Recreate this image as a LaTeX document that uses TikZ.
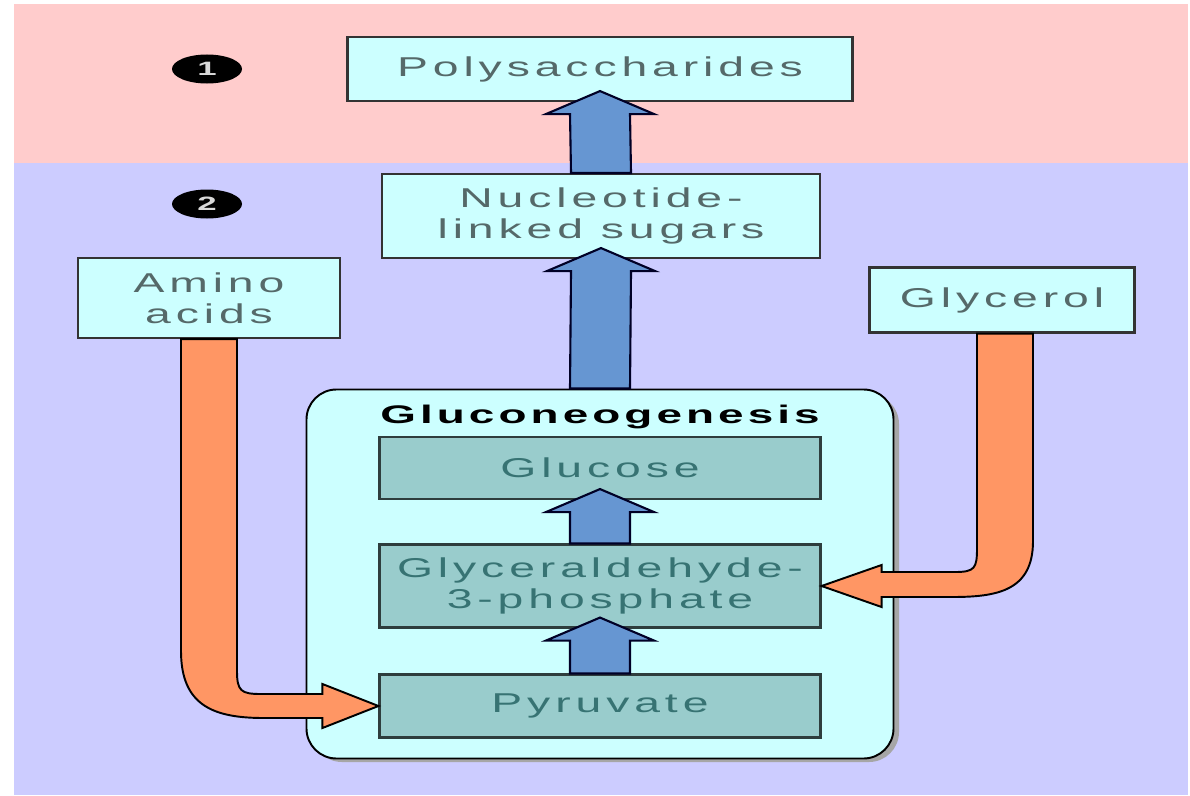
\documentclass[tikz,border=0pt]{standalone}
\usepackage{fontspec}
\usetikzlibrary{calc,shapes.geometric}

\newfontfamily\boxfont[FakeStretch=1.7,LetterSpace=18]{Liberation Sans}
\newfontfamily\headfont[FakeStretch=1.8,LetterSpace=16]{Liberation Sans}

\definecolor{pinkband}{RGB}{255,204,204}
\definecolor{lilacband}{RGB}{204,204,255}
\definecolor{paleCyan}{RGB}{204,255,255}
\definecolor{tealbox}{RGB}{153,204,204}
\definecolor{greytext}{RGB}{85,105,105}
\definecolor{tealtext}{RGB}{55,115,115}
\definecolor{arrowblue}{RGB}{102,150,210}
\definecolor{arroworange}{RGB}{255,150,100}

\tikzset{
  compound/.style={draw=black!80, line width=1.2pt, fill=paleCyan, align=center,
    text=greytext, font=\boxfont\fontsize{15.5}{17.5}\selectfont, inner sep=0pt},
  step box/.style={draw=black!70!tealbox, line width=1.2pt, fill=tealbox, align=center,
    text=tealtext, font=\boxfont\fontsize{15.5}{17.5}\selectfont, inner sep=0pt,
    minimum width=88.2mm},
  badge/.style={ellipse, fill=black, text=black!15, minimum width=14mm, minimum height=5.8mm,
    inner sep=0pt, font=\headfont\bfseries\fontsize{11}{11}\selectfont},
  blue arrow/.style={fill=arrowblue, draw=black!85!blue, line width=1.2pt, line join=miter},
  orange arrow/.style={fill=arroworange, draw=black, line width=1.1pt, line join=miter}
}

% fat upward arrow from the top of #1 into the bottom of #2
\newcommand{\blockarrow}[2]{%
  \filldraw[blue arrow] ($(#1.north)+(-30,0)$) -- ($(#2.south)+(-30,12)$)
    -- ($(#2.south)+(-54,12)$) -- ($(#2.south)+(0,-11)$) -- ($(#2.south)+(54,12)$)
    -- ($(#2.south)+(30,12)$) -- ($(#1.north)+(30,0)$) -- cycle;}

\begin{document}
\begin{tikzpicture}[x=0.2mm, y=-0.2mm]
  \useasboundingbox (0,0) rectangle (1190,795);

  % Bands
  \fill[pinkband] (14,4) rectangle (1188,163);
  \fill[lilacband] (14,163) rectangle (1188,795);

  \node[badge] (one) at (207,69) {1};
  \node[badge] (two) at (207,204) {2};

  % Boxes
  \node[compound, minimum width=101mm, minimum height=12.8mm] (poly) at (600,69) {Polysaccharides};
  \node[compound, minimum width=87.6mm, minimum height=16.8mm] (nucl) at (601,216) {Nucleotide-\\linked sugars};
  \node[compound, minimum width=52.4mm, minimum height=16mm] (amino) at (209,298) {Amino\\acids};
  \node[compound, minimum width=53mm, minimum height=13mm] (glyc) at (1002,300) {Glycerol};

  % Gluconeogenesis block, with a soft shadow on its right side
  \fill[black!35, rounded corners=6mm] (312,394) rectangle (899,762);
  \node[draw=black, line width=1.1pt, fill=paleCyan, rounded corners=6mm,
    minimum width=117.4mm, minimum height=73.8mm] (gng) at (600,574) {};
  \node[font=\headfont\bfseries\fontsize{14.5}{16}\selectfont] (gngtitle) at (600,417) {Gluconeogenesis};
  \node[step box, minimum height=12.4mm] (glucose) at (600,468) {Glucose};
  \node[step box, minimum height=16.6mm] (gap) at (600,586) {Glyceraldehyde-\\3-phosphate};
  \node[step box, minimum height=12.6mm] (pyr) at (600,706) {Pyruvate};

  % Upward flow
  \blockarrow{nucl}{poly}
  \blockarrow{gng}{nucl}
  \blockarrow{gap}{glucose}
  \blockarrow{pyr}{gap}

  % Amino acids feed pyruvate
  \filldraw[orange arrow]
    ($(amino.south)+(-28,0)$) -- ($(amino.south |- pyr.west)+(-28,-55)$)
    .. controls +(0,55) and +(-50,0) .. ($(amino.south |- pyr.west)+(55,12)$)
    -- ($(pyr.west)+(-56,12)$) -- ($(pyr.west)+(-56,22)$) -- (pyr.west)
    -- ($(pyr.west)+(-56,-22)$) -- ($(pyr.west)+(-56,-12)$)
    -- ($(amino.south |- pyr.west)+(52,-12)$)
    .. controls +(-20,0) and +(0,20) .. ($(amino.south |- pyr.west)+(28,-35)$)
    -- ($(amino.south)+(28,0)$) -- cycle;

  % Glycerol feeds glyceraldehyde-3-phosphate
  \filldraw[orange arrow]
    ($(glyc.south)+(31,0)$) -- ($(glyc.south |- gap.east)+(31,-45)$)
    .. controls +(0,50) and +(45,0) .. ($(glyc.south |- gap.east)+(-50,11)$)
    -- ($(gap.east)+(60,11)$) -- ($(gap.east)+(60,21)$) -- (gap.east)
    -- ($(gap.east)+(60,-21)$) -- ($(gap.east)+(60,-14)$)
    -- ($(glyc.south |- gap.east)+(-47,-14)$)
    .. controls +(20,0) and +(0,20) .. ($(glyc.south |- gap.east)+(-25,-38)$)
    -- ($(glyc.south)+(-25,0)$) -- cycle;
\end{tikzpicture}
\end{document}
